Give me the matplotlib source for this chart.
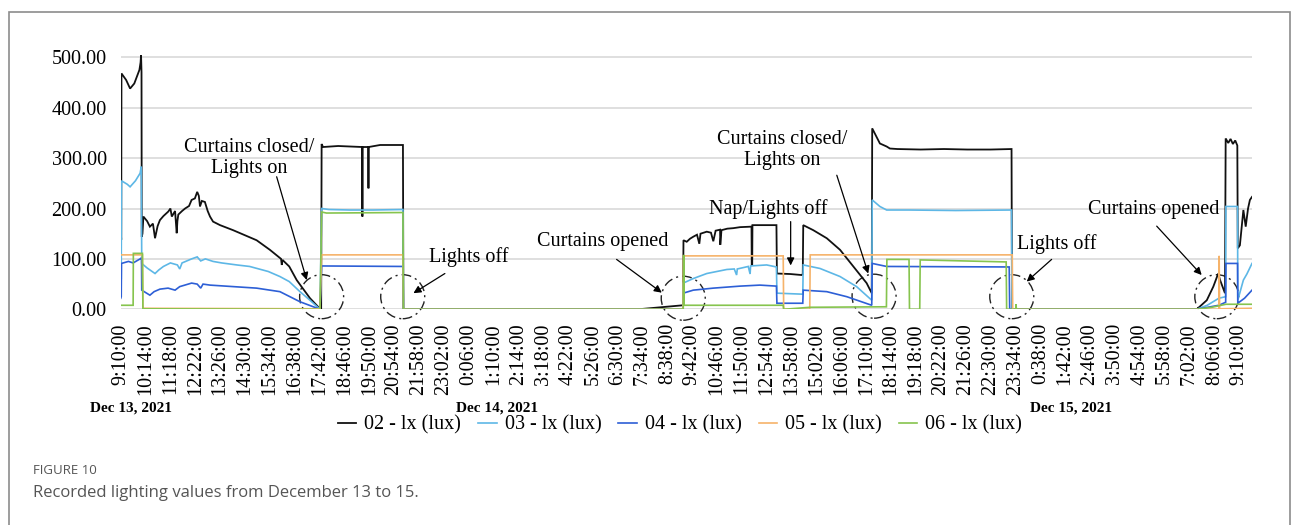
import matplotlib
matplotlib.use("Agg")
import matplotlib.pyplot as plt
from matplotlib.patches import Ellipse, Rectangle

FONTNAME = "Liberation Serif"
FONTSIZE = 14.5

# hours counted from Dec 13, 2021 00:00
t_02 = [9.17, 9.19, 9.20, 9.40, 9.57, 9.75, 9.97, 10.02, 10.04, 10.06, 10.07, 10.10, 10.14, 10.30,
        10.42, 10.55, 10.64, 10.75, 10.85, 11.00, 11.21, 11.30, 11.36, 11.50, 11.57, 11.60, 11.64,
        11.80, 11.93, 12.10, 12.21, 12.35, 12.45, 12.52, 12.57, 12.65, 12.78, 12.90, 13.00, 13.13,
        13.43, 13.99, 14.50, 15.00, 15.57, 16.05, 16.08, 16.11, 16.40, 16.72, 17.29, 17.72, 17.77,
        17.79, 17.85, 18.50, 19.53, 19.54, 19.55, 19.79, 19.80, 19.81, 20.30, 21.28, 21.30, 31.37,
        33.30, 33.32, 33.46, 33.60, 33.74, 33.90, 34.00, 34.05, 34.32, 34.50, 34.60, 34.70, 34.89,
        34.90, 34.95, 35.20, 35.46, 35.75, 36.18, 36.24, 36.25, 36.27, 36.28, 36.60, 37.31, 37.33,
        37.90, 38.39, 38.44, 38.46, 38.89, 39.47, 40.04, 40.61, 41.18, 41.40, 41.42, 41.75, 42.04,
        42.18, 42.50, 43.50, 44.50, 45.50, 46.50, 47.40, 47.42, 55.35, 55.78, 56.06, 56.27, 56.35,
        56.56, 56.59, 56.70, 56.80, 56.90, 57.00, 57.09, 57.11, 57.20, 57.35, 57.45, 57.55, 57.63,
        57.72]
v_02 = [157, 138, 468, 455, 438, 448, 475, 490, 505, 470, 144, 150, 184, 175,
        164, 170, 141, 165, 177, 185, 194, 200, 184, 195, 151, 175, 188,
        195, 200, 205, 217, 220, 233, 225, 204, 215, 213, 195, 184, 174,
        167, 157, 147, 137, 118, 100, 88, 98, 85, 58, 22, 1, 0,
        328, 322, 324, 322, 184, 322, 322, 240, 322, 326, 326, 0, 0,
        8, 137, 134, 140, 144, 148, 130, 150, 154, 152, 135, 156, 158,
        128, 157, 160, 161, 163, 164, 164, 88, 88, 167, 167, 167, 71,
        70, 68, 70, 167, 157, 141, 118, 85, 52, 32, 359, 329, 323,
        319, 318, 317, 318, 317, 317, 318, 0, 0, 18, 45, 71, 58,
        32, 339, 330, 338, 328, 335, 325, 121, 127, 197, 164, 200, 217,
        223]

t_03 = [9.17, 9.19, 9.20, 9.45, 9.57, 9.80, 10.00, 10.05, 10.07, 10.30, 10.64, 10.80, 11.00, 11.30,
        11.60, 11.70, 11.80, 12.21, 12.45, 12.60, 12.80, 13.13, 13.50, 14.15, 14.70, 15.50, 16.00,
        16.40, 16.86, 17.29, 17.72, 17.79, 18.10, 19.00, 20.00, 21.28, 21.30, 33.30, 33.31, 33.74,
        34.32, 35.18, 35.50, 35.60, 35.63, 36.10, 36.18, 36.20, 36.89, 37.31, 37.33, 38.44, 38.46,
        39.18, 40.04, 40.75, 41.40, 41.42, 41.75, 42.04, 43.00, 45.00, 47.40, 47.42, 55.35, 55.80,
        56.30, 56.59, 56.60, 57.10, 57.11, 57.35, 57.50, 57.72]
v_03 = [65, 60, 255, 248, 243, 255, 270, 283, 91, 82, 71, 78, 85, 92,
        88, 80, 92, 100, 104, 96, 100, 95, 92, 88, 85, 75, 65,
        55, 35, 18, 0, 200, 198, 197, 197, 198, 0, 0, 52, 61,
        71, 79, 80, 68, 80, 85, 70, 86, 88, 84, 32, 30, 88,
        81, 65, 45, 18, 217, 204, 197, 197, 196, 197, 0, 0, 8,
        22, 25, 204, 204, 18, 58, 70, 91]

t_04 = [9.17, 9.19, 9.20, 9.50, 9.70, 10.00, 10.06, 10.07, 10.42, 10.60, 10.85, 11.20, 11.50, 11.70,
        12.21, 12.45, 12.60, 12.70, 13.00, 14.00, 15.00, 16.00, 16.86, 17.72, 17.79, 21.28, 21.30,
        33.30, 33.31, 33.74, 34.60, 35.75, 36.60, 37.31, 37.33, 38.44, 38.46, 39.47, 40.33, 41.40,
        41.42, 42.04, 47.30, 47.32, 55.35, 56.30, 56.59, 56.60, 57.10, 57.11, 57.40, 57.72]
v_04 = [22, 25, 91, 95, 92, 100, 102, 38, 28, 35, 40, 42, 38, 45,
        52, 50, 42, 50, 48, 45, 42, 35, 15, 0, 86, 85, 0,
        0, 32, 38, 42, 46, 48, 46, 12, 12, 38, 35, 25, 8,
        91, 85, 84, 0, 0, 8, 14, 91, 91, 12, 22, 38]

t_05 = [9.17, 10.10, 10.12, 17.72, 17.79, 21.28, 21.30, 33.30, 33.32, 37.60, 37.62, 38.74, 38.76,
        47.43, 47.45, 56.30, 56.31, 56.33, 57.72]
v_05 = [108, 108, 2, 1, 108, 108, 0, 0, 106, 106, 0, 0, 108,
        108, 0, 0, 106, 1, 2]

t_06 = [9.17, 9.70, 9.71, 10.10, 10.12, 17.72, 17.79, 18.00, 21.28, 21.30, 33.31, 33.33, 33.35,
        37.60, 37.62, 38.75, 42.03, 42.05, 43.00, 43.02, 43.46, 43.48, 47.17, 47.19, 47.58, 47.59,
        47.61, 55.35, 56.00, 56.40, 56.60, 57.72]
v_06 = [8, 8, 111, 111, 1, 0, 193, 191, 192, 0, 0, 108, 8,
        8, 0, 4, 5, 99, 99, 0, 0, 98, 94, 0, 0, 10,
        0, 0, 4, 8, 10, 10]

series = [
    ("02 - lx (lux)", t_02, v_02, "#111111"),
    ("03 - lx (lux)", t_03, v_03, "#5db7e6"),
    ("04 - lx (lux)", t_04, v_04, "#2d5fd6"),
    ("05 - lx (lux)", t_05, v_05, "#f6b36a"),
    ("06 - lx (lux)", t_06, v_06, "#86c44e"),
]

tick_labels = ["9:10:00", "10:14:00", "11:18:00", "12:22:00", "13:26:00", "14:30:00", "15:34:00",
               "16:38:00", "17:42:00", "18:46:00", "19:50:00", "20:54:00", "21:58:00", "23:02:00",
               "0:06:00", "1:10:00", "2:14:00", "3:18:00", "4:22:00", "5:26:00", "6:30:00",
               "7:34:00", "8:38:00", "9:42:00", "10:46:00", "11:50:00", "12:54:00", "13:58:00",
               "15:02:00", "16:06:00", "17:10:00", "18:14:00", "19:18:00", "20:22:00", "21:26:00",
               "22:30:00", "23:34:00", "0:38:00", "1:42:00", "2:46:00", "3:50:00", "4:54:00",
               "5:58:00", "7:02:00", "8:06:00", "9:10:00"]
tick_start = 9 + 10 / 60.0
tick_step = 64 / 60.0

day_labels = ["Dec 13, 2021", "Dec 14, 2021", "Dec 15, 2021"]
day_label_x = [131, 497, 1071]  # pixels

# (text, text centre, arrow tail, arrow tip) in data units
notes = [
    ("Curtains closed/\nLights on", (14.67, 301), (15.86, 263), (17.15, 58)),
    ("Lights off", (24.12, 104), (23.08, 71), (21.73, 32)),
    ("Curtains opened", (29.84, 134), (30.45, 99), (32.39, 33)),
    ("Nap/Lights off", (36.95, 199), (37.92, 174), (37.92, 87)),
    ("Curtains closed/\nLights on", (37.55, 316), (39.90, 266), (41.25, 71)),
    ("Lights off", (49.34, 130), (49.12, 99), (48.05, 55)),
    ("Curtains opened", (53.51, 199), (53.63, 165), (55.56, 68)),
]
circles = [(17.79, 25), (21.27, 25), (33.31, 22), (41.50, 26), (47.41, 25), (56.21, 25)]

W, H = 1295, 525
fig = plt.figure(figsize=(W / 100, H / 100), dpi=100)
ax = fig.add_axes([120.7 / W, (H - 309.3) / H, 1131.3 / W, 505 * 0.504 / H])

for name, t, v, c in series:
    ax.plot(t, v, color=c, lw=1.2 if c != "#111111" else 1.3, label=name, solid_joinstyle="miter")

ax.set_xlim(tick_start, 57.72)
ax.set_ylim(0, 505)
ax.set_yticks([0, 100, 200, 300, 400, 500])
ax.set_yticklabels(["%.2f" % y for y in [0, 100, 200, 300, 400, 500]], fontname=FONTNAME, fontsize=FONTSIZE)
ax.set_xticks([tick_start + i * tick_step for i in range(len(tick_labels))])
ax.set_xticklabels(tick_labels, rotation=90, fontname=FONTNAME, fontsize=FONTSIZE)
ax.tick_params(length=0, pad=10)
for s in ax.spines.values():
    s.set_visible(False)
ax.grid(axis="y", color="#d9d9d9", lw=1.2)
ax.set_axisbelow(True)

for text, pos, tail, tip in notes:
    ax.text(pos[0], pos[1], text, ha="center", va="center", fontname=FONTNAME,
            fontsize=FONTSIZE, linespacing=1.15)
    ax.annotate("", xy=tip, xytext=tail,
                arrowprops=dict(arrowstyle="-|>", color="black", lw=0.9,
                                mutation_scale=11, shrinkA=0, shrinkB=0))

for cx, cy in circles:
    ax.add_patch(Ellipse((cx, cy), 44 * 0.042918, 44 / 0.504, fill=False, ec="#222222",
                         lw=1.0, ls=(0, (7, 3, 1.5, 3)), clip_on=False))

for lab, x in zip(day_labels, day_label_x):
    fig.text(x / W, 1 - 408 / H, lab, ha="center", va="center", fontname=FONTNAME,
             fontsize=11, fontweight="bold")

fig.legend(loc="center", bbox_to_anchor=(680 / W, 1 - 425 / H), ncol=5, frameon=False,
           prop={"family": FONTNAME, "size": 14.5}, handlelength=0.9, handletextpad=0.4,
           columnspacing=0.85, borderpad=0)

fig.text(33 / W, 1 - 470 / H, "FIGURE 10", ha="left", va="center", fontname="Open Sans",
         fontsize=9.5, color="#555555")
fig.text(33 / W, 1 - 493 / H, "Recorded lighting values from December 13 to 15.", ha="left",
         va="center", fontname="Open Sans", fontsize=12, color="#555555")

fig.add_artist(Rectangle((9 / W, -0.05), 1281 / W, 1.05 - 12 / H, transform=fig.transFigure,
                         fill=False, ec="#8c8c8c", lw=1.2))

fig.savefig("out.png", dpi=100)
